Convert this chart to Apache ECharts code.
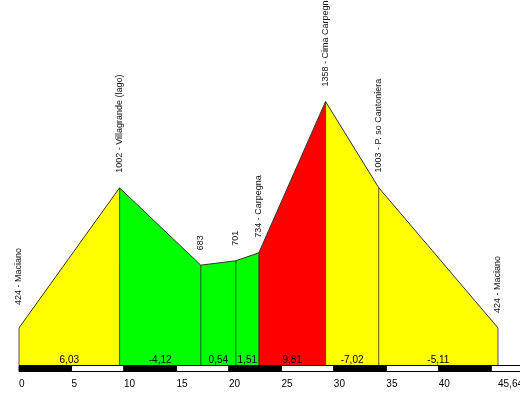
<!DOCTYPE html>
<html><head><meta charset="utf-8">
<script src="https://cdn.jsdelivr.net/npm/echarts@6/dist/echarts.min.js"></script>
<style>html,body{margin:0;padding:0;background:#fff}#c{width:520px;height:394px}</style>
</head><body><div id="c"></div>
<script>
// Profile points (km, elevation m, place names)
const km = [0, 9.58, 17.32, 20.66, 22.85, 29.21, 34.27, 45.64];
const elev = [424, 1002, 683, 701, 734, 1358, 1003, 424];
const names = ['Maciano', 'Villagrande (lago)', '', '', 'Carpegna', 'Cima Carpegna', 'P. so Cantoniera', 'Maciano'];
// Average gradient of each segment (%)
const grades = [6.03, -4.12, 0.54, 1.51, 9.81, -7.02, -5.11];
// Distance axis labels and scale-bar stops (km)
const tickValues = [0, 5, 10, 15, 20, 25, 30, 35, 40, 45.64];
const scaleStops = [0, 5, 10, 15, 20, 25, 30, 35, 40, 45, 50];

const yMin = 271, yMax = 1777;
const FONT = '"Liberation Sans", Arial, sans-serif';
const fmt = v => String(v).replace('.', ',');
function gradeColor(g) { const a = Math.abs(g); return a >= 9 ? '#ff0000' : (a >= 5 ? '#ffff00' : '#00ff00'); }

const segData = grades.map((g, i) => [km[i], elev[i], km[i + 1], elev[i + 1], g]);
const ptData = km.map((k, i) => [k, elev[i]]);
const scaleData = [];
for (let j = 0; j < scaleStops.length - 1; j++) scaleData.push([scaleStops[j], scaleStops[j + 1], j % 2]);

const chart = echarts.init(document.getElementById('c'), null, { renderer: 'canvas' });
chart.setOption({
  animation: false,
  backgroundColor: '#fff',
  grid: { left: 19, right: 22, top: 0, bottom: 29, containLabel: false, outerBoundsMode: 'none' },
  xAxis: {
    type: 'value', min: 0, max: 45.64,
    axisLine: { show: false }, axisTick: { show: false }, splitLine: { show: false },
    axisLabel: {
      customValues: tickValues, formatter: v => fmt(v), align: 'left',
      fontSize: 10, color: '#000', margin: 14, fontFamily: FONT
    }
  },
  yAxis: { type: 'value', min: yMin, max: yMax, show: false, splitLine: { show: false } },
  series: [
    {
      type: 'custom', data: segData, encode: { x: [0, 2], y: [1, 3] }, clip: false, z: 1,
      renderItem(params, api) {
        const x0 = api.value(0), e0 = api.value(1), x1 = api.value(2), e1 = api.value(3), g = api.value(4);
        const pts = [api.coord([x0, yMin]), api.coord([x0, e0]), api.coord([x1, e1]), api.coord([x1, yMin])];
        const mid = api.coord([(x0 + x1) / 2, yMin]);
        return { type: 'group', children: [
          { type: 'polygon', shape: { points: pts }, style: { fill: gradeColor(g), stroke: null } },
          { type: 'text', x: mid[0], y: mid[1] - 5, style: { text: fmt(g.toFixed(2)), fill: '#000', font: '10px ' + FONT, align: 'center', verticalAlign: 'middle' } }
        ] };
      }
    },
    {
      type: 'custom', data: ptData, encode: { x: 0, y: 1 }, clip: false, z: 2,
      renderItem(params, api) {
        const x = api.value(0), e = api.value(1);
        const a = api.coord([x, yMin]), b = api.coord([x, e]);
        return { type: 'line', shape: { x1: a[0], y1: a[1], x2: b[0], y2: b[1] },
          style: { stroke: 'rgba(0,0,0,0.55)', lineWidth: 1.2 } };
      }
    },
    {
      type: 'line', data: ptData, symbol: 'none', z: 3,
      lineStyle: { color: '#333', width: 1 }
    },
    {
      type: 'custom', data: ptData, encode: { x: 0, y: 1 }, clip: false, z: 4,
      renderItem(params, api) {
        const i = params.dataIndex;
        const p = api.coord([api.value(0), api.value(1)]);
        const txt = elev[i] + (names[i] ? ' - ' + names[i] : '');
        return { type: 'text', x: p[0], y: p[1] - (i === 0 ? 23 : 15), rotation: Math.PI / 2,
          style: { text: txt, fill: '#111', font: '9px ' + FONT, align: 'left', verticalAlign: 'middle' } };
      }
    },
    {
      type: 'custom', data: scaleData, encode: { x: [0, 1] }, clip: false, z: 5,
      renderItem(params, api) {
        const a = api.coord([api.value(0), yMin]), b = api.coord([api.value(1), yMin]);
        return { type: 'rect', shape: { x: a[0], y: a[1] + 0.5, width: b[0] - a[0], height: 6 },
          style: { fill: api.value(2) ? '#fff' : '#000', stroke: '#000', lineWidth: 1 } };
      }
    }
  ]
});
</script></body></html>
